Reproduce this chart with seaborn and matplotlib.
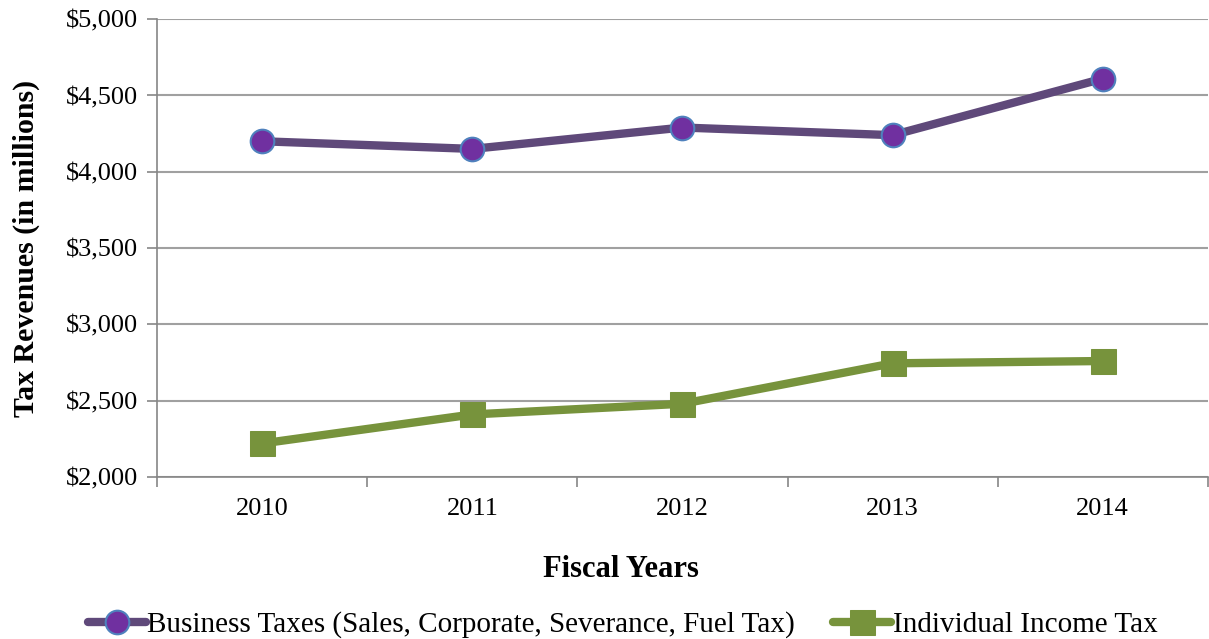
import matplotlib
matplotlib.use('Agg')
import matplotlib.pyplot as plt
import seaborn as sns
import pandas as pd
from matplotlib.ticker import FuncFormatter, FixedLocator

# Datos
years = ['2010', '2011', '2012', '2013', '2014']
business_taxes = [4200, 4150, 4290, 4240, 4610]
income_tax = [2220, 2410, 2480, 2745, 2760]

df = pd.DataFrame({'year': years, 'business': business_taxes, 'income': income_tax})
df['pos'] = range(len(years))

sns.set_style('white')
plt.rcParams['font.family'] = ['Liberation Serif', 'DejaVu Serif']
plt.rcParams['text.color'] = 'black'
plt.rcParams['axes.labelcolor'] = 'black'
plt.rcParams['xtick.color'] = 'black'
plt.rcParams['ytick.color'] = 'black'

fig = plt.figure(figsize=(12.09, 6.39), dpi=100)
ax = fig.add_axes([0.13, 0.2535, 0.869, 0.7165])

sns.lineplot(data=df, x='pos', y='business', ax=ax, color='#5F497A', linewidth=6,
             marker='o', markersize=17, markerfacecolor='#7030A0', markeredgecolor='#4F81BD',
             markeredgewidth=1.5, label='Business Taxes (Sales, Corporate, Severance, Fuel Tax)')
sns.lineplot(data=df, x='pos', y='income', ax=ax, color='#77933C', linewidth=6,
             marker='s', markersize=18, markerfacecolor='#77933C', markeredgecolor='#77933C',
             label='Individual Income Tax')

ax.set_ylim(2000, 5000)
ax.set_xlim(-0.5, len(years) - 0.5)
ax.set_yticks(range(2000, 5001, 500))
ax.yaxis.set_major_formatter(FuncFormatter(lambda v, p: f'${v:,.0f}'))
ax.set_xticks(range(len(years)))
ax.set_xticklabels(years)
ax.xaxis.set_minor_locator(FixedLocator([i - 0.5 for i in range(len(years) + 1)]))
ax.tick_params(axis='x', which='major', bottom=True, length=0, labelsize=19, pad=15)
ax.tick_params(axis='x', which='minor', bottom=True, length=7, width=1.2, color='#868686', direction='out')
ax.tick_params(axis='y', left=True, length=7, width=1.2, color='#868686', labelcolor='black',
               direction='out', labelsize=19, pad=7)

ax.grid(axis='y', color='#A0A0A0', linewidth=1.5)
ax.set_axisbelow(True)
for s in ['top', 'right']:
    ax.spines[s].set_visible(False)
for s in ['left', 'bottom']:
    ax.spines[s].set_color('#868686')
    ax.spines[s].set_linewidth(1.2)

ax.set_xlabel('Fiscal Years', fontsize=22, fontweight='bold', labelpad=24)
ax.xaxis.set_label_coords(0.4416, -0.17)
ax.set_ylabel('Tax Revenues (in millions)', fontsize=21.5, fontweight='bold', labelpad=18)

ax.legend(loc='center', bbox_to_anchor=(0.443, -0.323), ncol=2, frameon=False,
          fontsize=21, handlelength=2.0, handletextpad=0.05, columnspacing=1.3, borderaxespad=0)

fig.savefig('out.png', dpi=100)
